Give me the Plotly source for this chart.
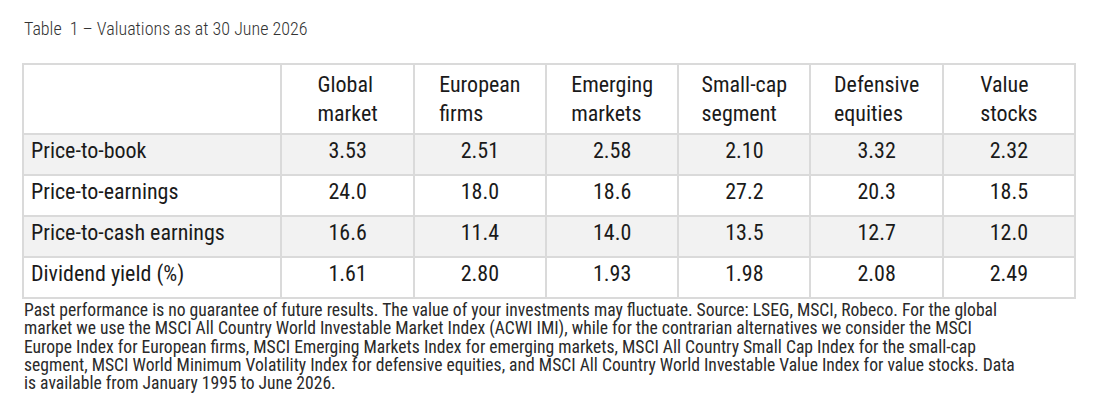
import plotly.graph_objects as go

# table contents
metrics = ["Price-to-book", "Price-to-earnings", "Price-to-cash earnings", "Dividend yield (%)"]
segments = ["Global<br>market", "European<br>firms", "Emerging<br>markets",
            "Small-cap<br>segment", "Defensive<br>equities", "Value<br>stocks"]
global_market = ["3.53", "24.0", "16.6", "1.61"]
european_firms = ["2.51", "18.0", "11.4", "2.80"]
emerging_markets = ["2.58", "18.6", "14.0", "1.93"]
small_cap = ["2.10", "27.2", "13.5", "1.98"]
defensive = ["3.32", "20.3", "12.7", "2.08"]
value_stocks = ["2.32", "18.5", "12.0", "2.49"]

title_text = "Table&nbsp; 1 \u2013 Valuations as at 30 June 2026"
footnote_lines = [
    "Past performance is no guarantee of future results. The value of your investments may fluctuate. "
    "Source: LSEG, MSCI, Robeco. For the global",
    "market we use the MSCI All Country World Investable Market Index (ACWI IMI), while for the "
    "contrarian alternatives we consider the MSCI",
    "Europe Index for European firms, MSCI Emerging Markets Index for emerging markets, "
    "MSCI All Country Small Cap Index for the small-cap",
    "segment, MSCI World Minimum Volatility Index for defensive equities, and MSCI All Country "
    "World Investable Value Index for value stocks. Data",
    "is available from January 1995 to June 2026.",
]

FONT = "Roboto Condensed, Liberation Sans Narrow, DejaVu Sans Condensed, sans-serif"
W, H = 1103, 416
OFF = 8  # page body margin


def px(x):
    return (x - OFF) / W


def py(y):
    return 1 - (y - OFF) / H


row_fill = ["#f2f2f2", "white", "#f2f2f2", "white"]
columns = [metrics, global_market, european_firms, emerging_markets, small_cap, defensive, value_stocks]

fig = go.Figure(go.Table(
    domain=dict(x=[px(23), px(1075)], y=[py(300), py(64)]),
    columnwidth=[258] + [132] * 6,
    header=dict(
        values=[""] + segments,
        height=68,
        align="center",
        fill_color="white",
        line=dict(color="#dadada", width=2),
        font=dict(family=FONT, size=22, color="#1a1a1a"),
    ),
    cells=dict(
        values=columns,
        height=41,
        align=["left"] + ["center"] * 6,
        fill_color=[row_fill] * 7,
        line=dict(color="#dadada", width=2),
        font=dict(family=FONT, size=22, color="#1a1a1a"),
    ),
))

fig.add_annotation(text=title_text, x=px(22), y=py(28), xref="paper", yref="paper",
                   xanchor="left", yanchor="middle", showarrow=False,
                   font=dict(family=FONT, size=18, weight=300, color="#333333"))
for i, line in enumerate(footnote_lines):
    fig.add_annotation(text=line, x=px(22), y=py(310 + 18.3 * i), xref="paper", yref="paper",
                       xanchor="left", yanchor="middle", align="left", showarrow=False,
                       font=dict(family=FONT, size=17.6, color="#2a2a2a"))

fig.update_layout(width=W, height=H, margin=dict(l=0, r=0, t=0, b=0),
                  paper_bgcolor="white", plot_bgcolor="white")
fig.write_html("out.html")
